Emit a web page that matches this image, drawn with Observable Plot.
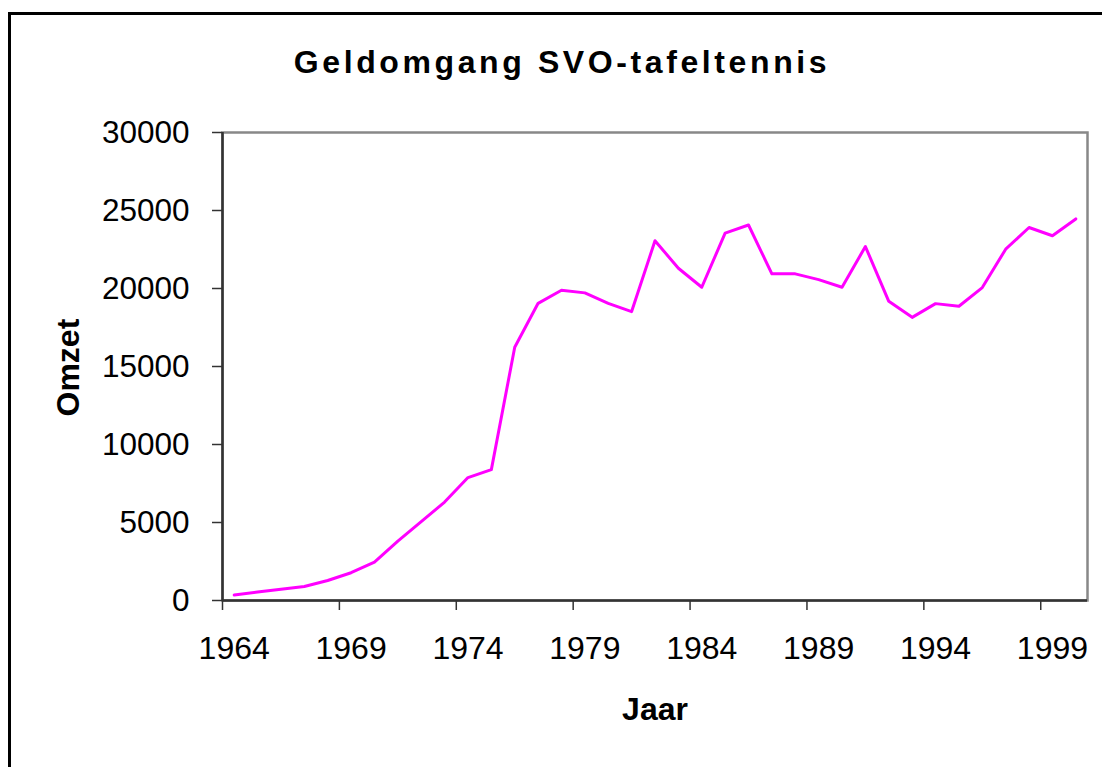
<!DOCTYPE html>
<html>
<head>
<meta charset="utf-8">
<script src="https://cdn.jsdelivr.net/npm/d3@7"></script>
<script src="https://cdn.jsdelivr.net/npm/@observablehq/plot@0.6"></script>
<style>
  html, body { margin: 0; padding: 0; background: #fff; overflow: hidden; }
  #wrap { position: relative; width: 1102px; height: 767px; }
  #frame { position: absolute; left: 8px; top: 12px; width: 1200px; height: 900px;
           border: 3px solid #000; box-sizing: border-box; pointer-events: none; z-index: 2; }
  #chart { position: absolute; left: 0; top: 0; }
</style>
</head>
<body>
<div id="wrap"><div id="frame"></div><div id="chart"></div></div>
<script>
const title = "Geldomgang SVO-tafeltennis";
const xTitle = "Jaar";
const yTitle = "Omzet";
const years = [1964, 1965, 1966, 1967, 1968, 1969, 1970, 1971, 1972, 1973, 1974, 1975, 1976, 1977, 1978, 1979, 1980, 1981, 1982, 1983, 1984, 1985, 1986, 1987, 1988, 1989, 1990, 1991, 1992, 1993, 1994, 1995, 1996, 1997, 1998, 1999, 2000];
const omzet = [350, 540, 720, 900, 1280, 1780, 2460, 3800, 5050, 6310, 7880, 8390, 16230, 19050, 19890, 19720, 19050, 18520, 23060, 21300, 20080, 23550, 24070, 20940, 20940, 20570, 20080, 22690, 19180, 18150, 19030, 18860, 20060, 22520, 23910, 23380, 24460];
const xTickLabels = [1964, 1969, 1974, 1979, 1984, 1989, 1994, 1999];
const yTicks = [0, 5000, 10000, 15000, 20000, 25000, 30000];

const data = years.map((y, i) => ({year: y, value: omzet[i]}));
const firstYear = years[0], lastYear = years[years.length - 1];
const boundaries = xTickLabels.map(d => d - 0.5);

const chart = Plot.plot({
  width: 1102,
  height: 767,
  marginLeft: 222,
  marginRight: 15,
  marginTop: 132,
  marginBottom: 167,
  style: {fontFamily: "'Liberation Sans', Arial, sans-serif", fontSize: "31px", background: "transparent", color: "#000", overflow: "visible"},
  x: {type: "linear", domain: [firstYear - 0.5, lastYear + 0.5]},
  y: {domain: [0, 30000]},
  marks: [
    Plot.frame({stroke: "#888", strokeWidth: 2.5}),
    Plot.line(data, {x: "year", y: "value", stroke: "#ff00ff", strokeWidth: 3}),
    Plot.ruleX([firstYear - 0.5], {stroke: "#333", strokeWidth: 2.5}),
    Plot.ruleY([0], {stroke: "#333", strokeWidth: 2.5}),
    Plot.axisY(yTicks, {tickSize: 10, tickPadding: 23, fontSize: 31.5, stroke: "#333", strokeWidth: 1.5, tickFormat: d => String(d), label: null}),
    Plot.axisX(boundaries, {tickSize: 10, tickFormat: () => "", stroke: "#333", strokeWidth: 1.5, label: null}),
    Plot.axisX(xTickLabels, {tickSize: 0, tickPadding: 36, fontSize: 32, tickFormat: d => String(d), label: null}),
    Plot.text([title], {text: d => d, frameAnchor: "top", dx: -93, dy: -70, fontSize: 32, fontWeight: "bold", lineAnchor: "middle", className: "chart-title"}),
    Plot.text([xTitle], {text: d => d, frameAnchor: "bottom", dy: 109, fontSize: 32, fontWeight: "bold", lineAnchor: "middle"}),
    Plot.text([yTitle], {text: d => d, frameAnchor: "left", dx: -154, dy: 50, fontSize: 32, fontWeight: "bold", rotate: -90, lineAnchor: "middle"})
  ]
});
d3.select(chart).selectAll("text").filter(function() { return this.textContent === title; })
  .style("letter-spacing", "3.6px");
document.getElementById("chart").appendChild(chart);
</script>
</body>
</html>
